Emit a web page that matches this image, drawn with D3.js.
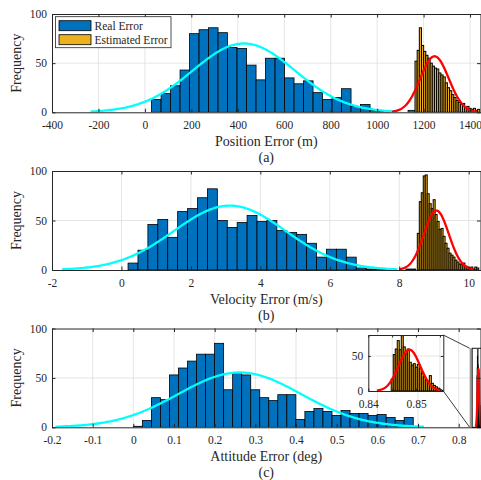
<!DOCTYPE html>
<html>
<head>
<meta charset="utf-8">
<script src="https://cdn.jsdelivr.net/npm/d3@7"></script>
<style>
  body { margin: 0; background: #fff; }
  svg { display: block; }
</style>
</head>
<body>
<svg id="chart" width="481" height="480"></svg>
<script>
// values

const posTicks = [-400, -200, 0, 200, 400, 600, 800, 1000, 1200, 1400];
const velTicks = [-2, 0, 2, 4, 6, 8, 10];
const attTicks = [-0.2, -0.1, 0, 0.1, 0.2, 0.3, 0.4, 0.5, 0.6, 0.7, 0.8];
const freqTicks = [0, 50, 100];
const insetXTicks = [0.84, 0.845, 0.85, 0.855];
const insetXLabels = ["0.84", "", "0.85", ""];
const insetYTicks = [0, 50];

// histograms: [first bin edge, bin width] + counts
const posRealBins = [28.7, 40.9];
const posRealCounts = [13, 19, 27, 43, 80, 84, 86, 81, 66, 65, 48, 33, 55, 55, 35, 29, 32, 20, 13, 15, 24, 6, 8, 2, 1, 0, 0, 2];
const posEstBins = [1163, 9.3];
const posEstCounts = [52, 63, 86, 68, 62, 58, 55, 50, 47, 45, 44, 40, 38, 36, 30, 25, 22, 18, 15, 12, 10, 8, 9, 5, 6, 4, 3, 4, 2, 3];

const velRealBins = [0.19, 0.2857];
const velRealCounts = [7, 20, 46, 51, 33, 59, 62, 73, 82, 50, 43, 48, 55, 49, 50, 40, 38, 36, 27, 13, 21, 21, 13, 2, 1, 1, 0, 0, 1];
const velEstBins = [8.52, 0.0571];
const velEstCounts = [37, 69, 78, 95, 96, 77, 67, 62, 71, 56, 49, 41, 42, 34, 27, 22, 17, 15, 13, 10, 8, 6, 6, 7, 4, 3, 2, 3, 1, 3, 2];

const attRealBins = [0, 0.0222];
const attRealCounts = [1, 7, 30, 28, 53, 60, 67, 74, 74, 85, 38, 55, 53, 38, 30, 27, 33, 33, 8, 16, 19, 16, 12, 17, 14, 14, 12, 13, 10, 7, 10];
const attEstBins = [0.8448, 0.00042];
const attEstCounts = [17, 52, 60, 72, 59, 79, 63, 53, 60, 41, 37, 39, 34, 38, 32, 25, 20, 16, 14, 22, 11, 8, 6, 4, 2, 1];

// normal fits: [mean, sd, peak height]
const posRealFit = [426, 220, 70];
const posEstFit = [1247, 61, 57];
const velRealFit = [3.12, 1.61, 65];
const velEstFit = [9.07, 0.357, 60];
const attRealFit = [0.2615, 0.151, 55.5];
const attEstFit = [0.8486, 0.00227, 59];

const legendLabels = ["Real Error", "Estimated Error"];

// look
const BLUE = "#0072BD", ORANGE = "#EDB120";
const AX = "#262626", GRID = "#dedede";
const FONT = "'Liberation Serif', 'Times New Roman', serif";
const left = 52, right = 480.5;

const svg = d3.select("#chart");

function drawHist(g, x, y, bins, counts, fill, sw) {
	const [start, w] = bins;
	const data = counts.map((c, i) => ({ x0: start + i * w, x1: start + (i + 1) * w, c })).filter(d => d.c > 0);
	g.append("g").selectAll("rect")
		.data(data)
		.join("rect")
			.attr("x", d => x(d.x0))
			.attr("width", d => x(d.x1) - x(d.x0))
			.attr("y", d => y(d.c))
			.attr("height", d => y(0) - y(d.c))
			.attr("fill", fill)
			.attr("stroke", "#000")
			.attr("stroke-width", sw);
}

function drawFit(g, x, y, fit, color) {
	const [m, s, peak] = fit;
	const pts = d3.range(0, 201).map(i => {
		const v = m - 3 * s + i * 6 * s / 200;
		return [v, peak * Math.exp(-0.5 * ((v - m) / s) ** 2)];
	});
	g.append("path")
		.datum(pts)
		.attr("fill", "none")
		.attr("stroke", color)
		.attr("stroke-width", 2.3)
		.attr("d", d3.line().x(d => x(d[0])).y(d => y(d[1])));
}

// light grid under the data
function drawFrame(g, x, y, xt, yt) {
	const [x0, x1] = x.range(), [y0, y1] = y.range();
	g.append("g").selectAll("line")
		.data(xt.filter(d => x(d) > x0 + 0.5 && x(d) < x1 - 0.5))
		.join("line")
			.attr("x1", x).attr("x2", x)
			.attr("y1", y0).attr("y2", y1)
			.attr("stroke", GRID).attr("stroke-width", 0.8);
	g.append("g").selectAll("line")
		.data(yt.filter(d => y(d) < y0 - 0.5 && y(d) > y1 + 0.5))
		.join("line")
			.attr("y1", y).attr("y2", y)
			.attr("x1", x0).attr("x2", x1)
			.attr("stroke", GRID).attr("stroke-width", 0.8);
}

// box with inward ticks on all four sides
function drawAxes(g, x, y, xt, yt, xLabels, tick) {
	const [x0, x1] = x.range(), [y0, y1] = y.range();
	const fmt = xLabels ? (d, i) => xLabels[i] : d => String(d);
	const style = a => a
		.attr("font-family", null).attr("font-size", null)
		.call(a => a.select(".domain").attr("stroke", AX))
		.call(a => a.selectAll(".tick line").attr("stroke", AX))
		.call(a => a.selectAll("text").attr("fill", AX).style("font-family", FONT).style("font-size", "11.5px"));
	g.append("g").attr("transform", `translate(0,${y0})`)
		.call(d3.axisBottom(x).tickValues(xt).tickFormat(fmt).tickSize(-tick).tickSizeOuter(0).tickPadding(8.5))
		.call(style);
	g.append("g").attr("transform", `translate(0,${y1})`)
		.call(d3.axisTop(x).tickValues(xt).tickFormat("").tickSize(-tick).tickSizeOuter(0))
		.call(style);
	g.append("g").attr("transform", `translate(${x0},0)`)
		.call(d3.axisLeft(y).tickValues(yt).tickFormat(d => String(d)).tickSize(-tick).tickSizeOuter(0).tickPadding(5))
		.call(style);
	g.append("g").attr("transform", `translate(${x1},0)`)
		.call(d3.axisRight(y).tickValues(yt).tickFormat("").tickSize(-tick).tickSizeOuter(0))
		.call(style);
}

let clipId = 0;
function clipped(g, x, y) {
	const id = "clip" + (clipId++);
	const [x0, x1] = x.range(), [y0, y1] = y.range();
	svg.append("clipPath").attr("id", id)
		.append("rect").attr("x", x0).attr("y", y1).attr("width", x1 - x0).attr("height", y0 - y1);
	return g.append("g").attr("clip-path", `url(#${id})`);
}

function panel(p) {
	const g = svg.append("g");
	const x = d3.scaleLinear().domain(p.domain).range([left, right]);
	const y = d3.scaleLinear().domain([0, 100]).range([p.bottom, p.top]);
	drawFrame(g, x, y, p.ticks, freqTicks);
	const plot = clipped(g, x, y);
	drawHist(plot, x, y, p.realBins, p.realCounts, BLUE, 0.8);
	drawFit(plot, x, y, p.realFit, "#00FFFF");
	drawHist(plot, x, y, p.estBins, p.estCounts, ORANGE, 1);
	drawFit(plot, x, y, p.estFit, "#FF0000");
	drawAxes(g, x, y, p.ticks, freqTicks, null, 3.5);

	g.append("text")
		.attr("transform", `translate(21,${(p.top + p.bottom) / 2}) rotate(-90)`)
		.attr("text-anchor", "middle")
		.attr("fill", AX)
		.style("font", `14px ${FONT}`)
		.text("Frequency");
	g.append("text")
		.attr("x", (left + right) / 2).attr("y", p.bottom + 34)
		.attr("text-anchor", "middle")
		.attr("fill", AX)
		.style("font", `14px ${FONT}`)
		.text(p.xlabel);
	g.append("text")
		.attr("x", (left + right) / 2).attr("y", p.bottom + 49.5)
		.attr("text-anchor", "middle")
		.attr("fill", AX)
		.style("font", `14px ${FONT}`)
		.text(p.tag);
	return { g, x, y };
}

const pa = panel({
	top: 14, bottom: 112.3, domain: [-400, 1445], ticks: posTicks,
	realBins: posRealBins, realCounts: posRealCounts, realFit: posRealFit,
	estBins: posEstBins, estCounts: posEstCounts, estFit: posEstFit,
	xlabel: "Position Error (m)", tag: "(a)"
});

panel({
	top: 171, bottom: 270, domain: [-2, 10.34], ticks: velTicks,
	realBins: velRealBins, realCounts: velRealCounts, realFit: velRealFit,
	estBins: velEstBins, estCounts: velEstCounts, estFit: velEstFit,
	xlabel: "Velocity Error (m/s)", tag: "(b)"
});

const pc = panel({
	top: 328.5, bottom: 427.3, domain: [-0.2, 0.8536], ticks: attTicks,
	realBins: attRealBins, realCounts: attRealCounts, realFit: attRealFit,
	estBins: attEstBins, estCounts: attEstCounts, estFit: attEstFit,
	xlabel: "Attitude Error (deg)", tag: "(c)"
});

// legend in (a)
const leg = pa.g.append("g");
leg.append("rect")
	.attr("x", 55.5).attr("y", 16.7).attr("width", 115.5).attr("height", 31)
	.attr("fill", "#fff").attr("stroke", AX).attr("stroke-width", 0.8);
[BLUE, ORANGE].forEach((c, i) => {
	const yy = 20.7 + i * 14;
	leg.append("rect")
		.attr("x", 59).attr("y", yy).attr("width", 32).attr("height", 10)
		.attr("fill", c).attr("stroke", "#000").attr("stroke-width", 0.8);
	leg.append("text")
		.attr("x", 94.5).attr("y", yy + 9)
		.attr("fill", AX)
		.style("font", `11.5px ${FONT}`)
		.text(legendLabels[i]);
});

// zoom box in (c) and the inset
const zx = pc.x(0.827), zy0 = pc.y(0), zy1 = pc.y(80);
const ins = { x0: 368.3, x1: 443.3, y0: 391, y1: 335 };
const zg = pc.g.append("g");
zg.append("line")
	.attr("x1", zx + 1).attr("x2", zx + 1).attr("y1", zy1).attr("y2", zy0)
	.attr("stroke", "#999").attr("stroke-width", 2);
zg.append("rect")
	.attr("x", zx + 2.5).attr("y", zy1).attr("width", 20).attr("height", zy0 - zy1)
	.attr("fill", "none").attr("stroke", "#000").attr("stroke-width", 0.9);
zg.append("line")
	.attr("x1", ins.x1).attr("y1", ins.y1).attr("x2", zx).attr("y2", zy1)
	.attr("stroke", AX).attr("stroke-width", 0.9);
zg.append("line")
	.attr("x1", ins.x1).attr("y1", ins.y0).attr("x2", zx).attr("y2", zy0)
	.attr("stroke", AX).attr("stroke-width", 0.9);

const ig = pc.g.append("g");
const ix = d3.scaleLinear().domain([0.84, 0.8557]).range([ins.x0, ins.x1]);
const iy = d3.scaleLinear().domain([0, 80]).range([ins.y0, ins.y1]);
ig.append("rect")
	.attr("x", ins.x0).attr("y", ins.y1).attr("width", ins.x1 - ins.x0).attr("height", ins.y0 - ins.y1)
	.attr("fill", "#fff");
drawFrame(ig, ix, iy, insetXTicks, insetYTicks);
const iplot = clipped(ig, ix, iy);
drawHist(iplot, ix, iy, attEstBins, attEstCounts, ORANGE, 1);
drawFit(iplot, ix, iy, attEstFit, "#FF0000");
drawAxes(ig, ix, iy, insetXTicks, insetYTicks, insetXLabels, 2.5);
</script>
</body>
</html>
